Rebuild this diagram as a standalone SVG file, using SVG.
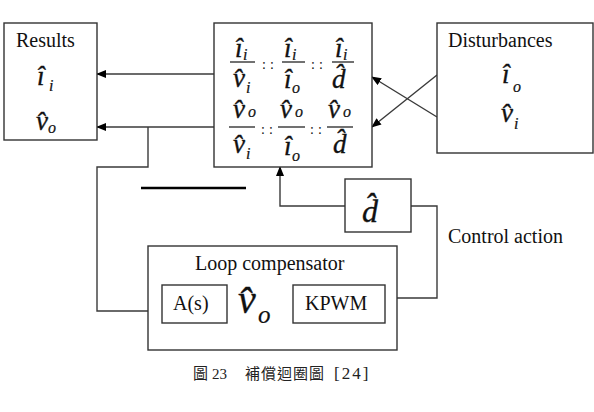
<svg xmlns="http://www.w3.org/2000/svg" width="594" height="412" viewBox="0 0 594 412">
<defs>
<marker id="ah" markerUnits="userSpaceOnUse" markerWidth="10" markerHeight="8" refX="9" refY="4" orient="auto">
<path d="M0,0 L10,4 L0,8 z" fill="#000"/>
</marker>
<style>
.box{fill:#fff;stroke:#333;stroke-width:1.4}
.ln{fill:none;stroke:#3a3a3a;stroke-width:1.4}
.ar{marker-end:url(#ah)}
.t{font-family:"Liberation Serif","Times New Roman",serif;font-size:20px;fill:#111}
.m{font-family:"Liberation Serif","Times New Roman",serif;font-style:italic;font-size:27px;fill:#111;stroke:#111;stroke-width:0.35}
.s{font-size:16px;stroke-width:0.2}
.c{font-family:"Liberation Serif","Times New Roman",serif;font-size:14px;fill:#111;letter-spacing:4px}
.bar{stroke:#111;stroke-width:1.2}
.cap{font-family:"Liberation Serif","Noto Sans CJK TC",serif;font-size:15px;fill:#222}
</style>
</defs>
<rect width="594" height="412" fill="#fff"/>

<g id="connectors">
<line class="ln ar" x1="214" y1="74" x2="97" y2="74"/>
<line class="ln ar" x1="214" y1="127" x2="97" y2="127"/>
<line class="ln ar" x1="437" y1="75" x2="372" y2="127"/>
<line class="ln ar" x1="437" y1="117" x2="372" y2="77"/>
<polyline class="ln ar" points="148,127 148,167 97,167 97,311 162,311"/>
<polyline class="ln ar" points="345,206 280,206 280,167"/>
<polyline class="ln" points="411,206 437,206 437,298 397,298"/>
<line class="ln ar" x1="227" y1="285" x2="293" y2="285"/>
<line x1="141" y1="188" x2="246" y2="188" stroke="#000" stroke-width="2.5"/>
</g>

<g id="results">
<rect class="box" x="4" y="23" width="93" height="117"/>
<text class="t" x="16" y="47">Results</text>
<text class="m" x="37" y="85">i&#770;<tspan class="s" x="49" y="91">i</tspan></text>
<text class="m" x="36" y="130">v&#770;<tspan class="s" x="48" y="133">o</tspan></text>
</g>

<g id="transfer">
<rect class="box" x="214" y="23" width="158" height="144"/>
<text class="m" x="235" y="57">i&#770;<tspan class="s" x="243" y="60">i</tspan></text>
<line class="bar" x1="230" y1="62" x2="255" y2="62"/>
<text class="m" x="233" y="87">v&#770;<tspan class="s" x="246" y="93">i</tspan></text>
<text class="c" x="262" y="69">::</text>
<text class="m" x="284" y="57">i&#770;<tspan class="s" x="292" y="60">i</tspan></text>
<line class="bar" x1="282" y1="62" x2="305" y2="62"/>
<text class="m" x="284" y="88">i&#770;<tspan class="s" x="292" y="93">o</tspan></text>
<text class="c" x="311" y="69">::</text>
<text class="m" x="335" y="57">i&#770;<tspan class="s" x="343" y="60">i</tspan></text>
<line class="bar" x1="332" y1="62" x2="354" y2="62"/>
<text class="m" x="332" y="88">d&#770;</text>

<text class="m" x="233" y="118">v&#770;<tspan class="s" x="248" y="117">o</tspan></text>
<line class="bar" x1="229" y1="127" x2="255" y2="127"/>
<text class="m" x="233" y="153">v&#770;<tspan class="s" x="246" y="159">i</tspan></text>
<text class="c" x="261" y="134">::</text>
<text class="m" x="280" y="118">v&#770;<tspan class="s" x="295" y="117">o</tspan></text>
<line class="bar" x1="278" y1="127" x2="305" y2="127"/>
<text class="m" x="284" y="155">i&#770;<tspan class="s" x="292" y="161">o</tspan></text>
<text class="c" x="310" y="134">::</text>
<text class="m" x="328" y="118">v&#770;<tspan class="s" x="343" y="117">o</tspan></text>
<line class="bar" x1="327" y1="127" x2="353" y2="127"/>
<text class="m" x="333" y="153">d&#770;</text>
</g>

<g id="disturbances">
<rect class="box" x="437" y="23" width="156" height="130"/>
<text class="t" x="448" y="47">Disturbances</text>
<text class="m" x="502" y="83">i&#770;<tspan class="s" x="513" y="92">o</tspan></text>
<text class="m" x="501" y="122">v&#770;<tspan class="s" x="514" y="129">i</tspan></text>
</g>

<g id="duty">
<rect class="box" x="345" y="179" width="66" height="53"/>
<text class="m" x="362" y="222" style="font-size:32px">d&#770;</text>
</g>

<g id="control-action">
<text class="t" x="448" y="243">Control action</text>
</g>

<g id="loop-compensator">
<rect class="box" x="148" y="246" width="249" height="104"/>
<text class="t" x="195" y="270">Loop compensator</text>
</g>

<g id="as">
<rect class="box" x="162" y="285" width="65" height="38"/>
<text class="t" x="173" y="310">A(s)</text>
</g>

<g id="vo">
<text class="m" x="238" y="313" style="font-size:40px;stroke-width:0.3">v&#770;<tspan class="s" x="258" y="323" style="font-size:25px">o</tspan></text>
</g>

<g id="kpwm">
<rect class="box" x="293" y="285" width="92" height="38"/>
<text class="t" x="305" y="310">KPWM</text>
</g>

<g id="caption">
<text class="cap" x="193" y="379">圖<tspan x="212">23</tspan><tspan x="245" letter-spacing="1">補償迴圈圖</tspan><tspan x="334" style="font-size:17px" letter-spacing="2">[24]</tspan></text>
</g>
</svg>
